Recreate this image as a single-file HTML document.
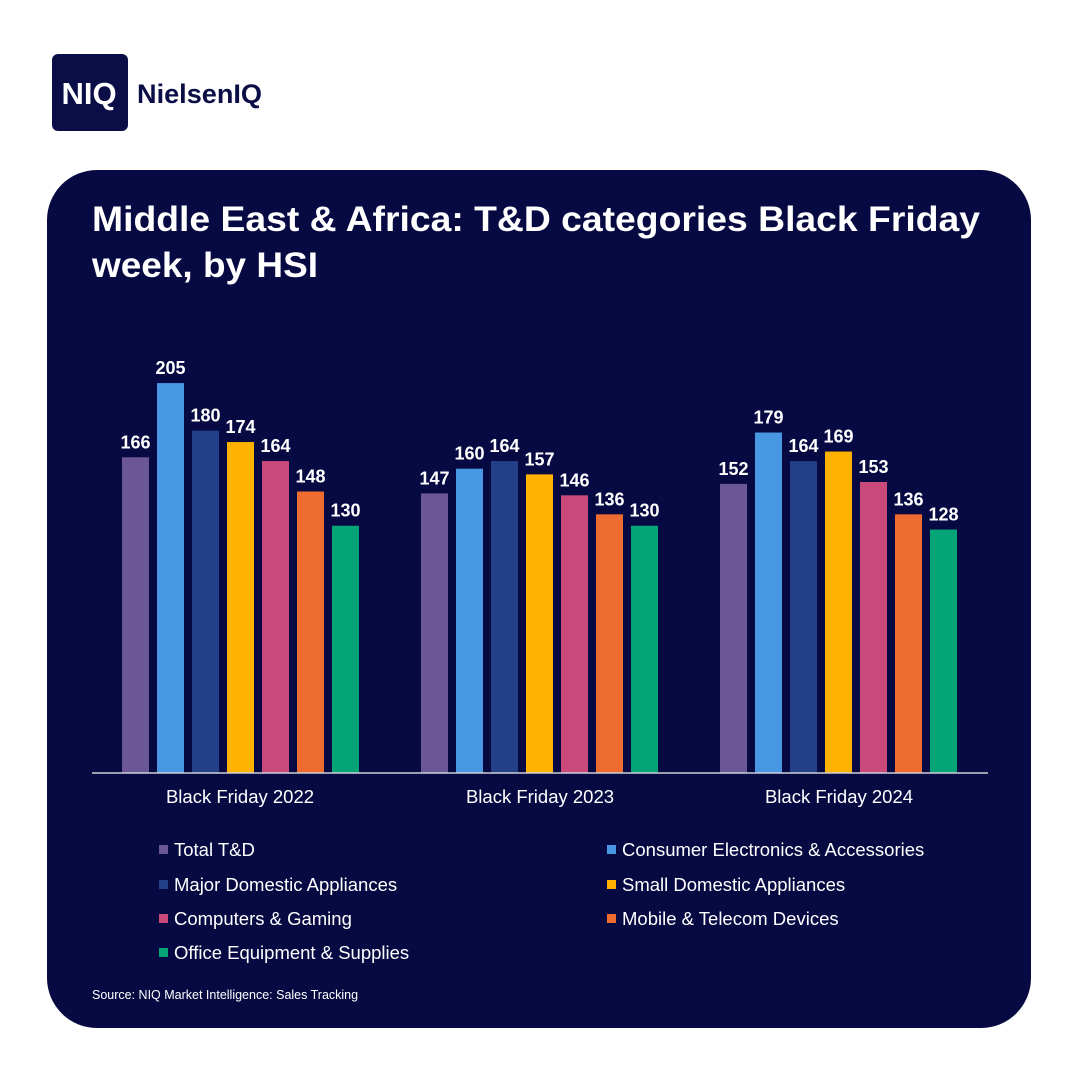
<!DOCTYPE html>
<html><head><style>
body{margin:0;width:1080px;height:1080px;background:#fff;font-family:"Liberation Sans",Arial,sans-serif;}
</style></head><body>
<svg width="1080" height="1080" xmlns="http://www.w3.org/2000/svg" font-family="Liberation Sans, Arial, sans-serif">
<rect x="0" y="0" width="1080" height="1080" fill="#fff"/>
<rect x="52" y="54" width="76" height="77" rx="6" fill="#0b0d47"/>
<text x="89" y="104" font-size="31" font-weight="bold" fill="#fff" text-anchor="middle">NIQ</text>
<text x="137" y="103" font-size="27" font-weight="bold" fill="#0b0d47" textLength="125" lengthAdjust="spacingAndGlyphs">NielsenIQ</text>
<rect x="47" y="170" width="984" height="858" rx="50" fill="#070a42"/>
<text x="92" y="231" font-size="35" font-weight="bold" fill="#fff" textLength="888" lengthAdjust="spacingAndGlyphs">Middle East &amp; Africa: T&amp;D categories Black Friday</text>
<text x="92" y="277" font-size="35" font-weight="bold" fill="#fff" textLength="226" lengthAdjust="spacingAndGlyphs">week, by HSI</text>
<g id="bars"></g>
<line x1="92" y1="773" x2="988" y2="773" stroke="#d0d0d8" stroke-width="1.5"/>
<g font-size="18.5" fill="#fff" text-anchor="middle">
<text x="240" y="803">Black Friday 2022</text>
<text x="540" y="803">Black Friday 2023</text>
<text x="839" y="803">Black Friday 2024</text>
</g>
<g font-size="18.5" fill="#fff">
<rect x="159" y="845" width="9" height="9" fill="#6b5796"/><text x="174" y="856">Total T&amp;D</text>
<rect x="607" y="845" width="9" height="9" fill="#4797e2"/><text x="622" y="856">Consumer Electronics &amp; Accessories</text>
<rect x="159" y="880" width="9" height="9" fill="#223f87"/><text x="174" y="891">Major Domestic Appliances</text>
<rect x="607" y="880" width="9" height="9" fill="#ffb300"/><text x="622" y="891">Small Domestic Appliances</text>
<rect x="159" y="914" width="9" height="9" fill="#c94a7a"/><text x="174" y="925">Computers &amp; Gaming</text>
<rect x="607" y="914" width="9" height="9" fill="#ee6c30"/><text x="622" y="925">Mobile &amp; Telecom Devices</text>
<rect x="159" y="948" width="9" height="9" fill="#05a476"/><text x="174" y="959">Office Equipment &amp; Supplies</text>
</g>
<text x="92" y="999" font-size="12.5" fill="#fff">Source: NIQ Market Intelligence: Sales Tracking</text>
</svg>
<script>
const cols=["#6b5796","#4797e2","#223f87","#ffb300","#c94a7a","#ee6c30","#05a476"];
const data=[[166,205,180,174,164,148,130],[147,160,164,157,146,136,130],[152,179,164,169,153,136,128]];
const starts=[122,421,720];let s="";
data.forEach((g,gi)=>g.forEach((v,i)=>{const x=starts[gi]+i*35,h=v*1.902,y=773-h;
s+=`<rect x="${x}" y="${y}" width="27" height="${h}" fill="${cols[i]}"/>`;
s+=`<text x="${x+13.5}" y="${y-9}" font-size="18" font-weight="bold" fill="#fff" text-anchor="middle">${v}</text>`;}));
document.getElementById("bars").innerHTML=s;
</script>
</body></html>
